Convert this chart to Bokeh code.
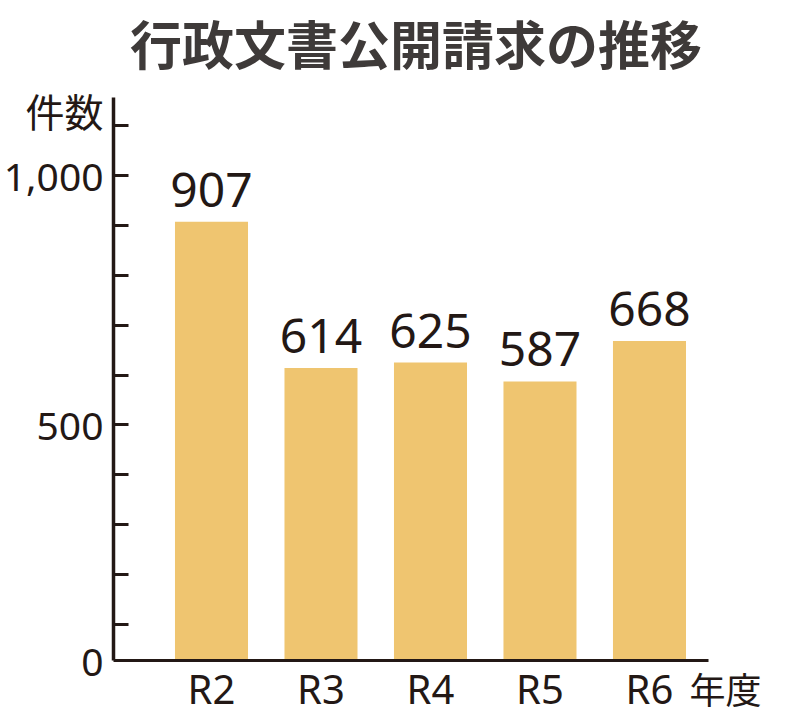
from bokeh.plotting import figure
from bokeh.models import Range1d, FixedTicker, Label, ColumnDataSource
from bokeh.core.properties import value
from bokeh.embed import file_html
from bokeh.resources import INLINE

# ---- data ----
years = ["R2", "R3", "R4", "R5", "R6"]
counts = [907, 614, 625, 587, 668]
count_labels = ["907", "614", "625", "587", "668"]
y_major_ticks = [500, 1000]
y_major_labels = ["500", "1,000"]
y_minor_ticks = [100, 200, 300, 400, 500, 600, 700, 800, 900, 1000, 1100]
zero_label = "0"
title_text = "行政文書公開請求の推移"
y_unit = "件数"
x_unit = "年度"

INK = "#231815"
BAR = "#EFC570"
TITLE = "#3E3A39"
JP = "Noto Sans CJK JP"
LATIN = "Noto Sans"
MIXED = "'Noto Sans', 'Noto Sans CJK JP'"

xs = list(range(len(years)))
X0, X1 = -0.895, 4.539
Y0, Y1 = 28, 1156   # plotted value range (bottom is the visible baseline)
Y_UNIT = 1128       # height at which the unit caption sits

p = figure(width=788, height=718, output_backend="svg", toolbar_location=None,
           x_range=Range1d(X0, X1), y_range=Range1d(Y0, Y1),
           min_border_left=113, min_border_right=80, min_border_top=97,
           min_border_bottom=57, outline_line_color=None)

src = ColumnDataSource(dict(x=xs, top=counts, lab=count_labels))
p.vbar(x="x", top="top", bottom=0, width=0.667, source=src,
       fill_color=BAR, line_color=None)
p.text(x="x", y="top", text="lab", source=src, text_align="center",
       text_baseline="alphabetic", y_offset=-32, text_font=value(LATIN),
       text_font_size="48px", text_color=INK)

p.grid.visible = False

# x axis
xa = p.xaxis[0]
xa.ticker = FixedTicker(ticks=xs)
xa.major_label_overrides = {i: y for i, y in enumerate(years)}
xa.major_tick_line_color = None
xa.minor_tick_line_color = None
xa.major_tick_in = 0
xa.major_tick_out = 0
xa.minor_tick_in = 0
xa.minor_tick_out = 0
xa.axis_line_color = INK
xa.axis_line_width = 3
xa.major_label_text_font = LATIN
xa.major_label_text_font_size = "40px"
xa.major_label_text_color = INK
xa.major_label_standoff = 0

# y axis: labelled values carry no tick mark of their own; every 100 gets a mark
ya = p.yaxis[0]
ya.ticker = FixedTicker(ticks=[Y0] + y_major_ticks + [Y_UNIT],
                        minor_ticks=y_minor_ticks)
ov = {Y0: zero_label, Y_UNIT: y_unit}
ov.update({t: l for t, l in zip(y_major_ticks, y_major_labels)})
ya.major_label_overrides = ov
ya.axis_line_color = INK
ya.axis_line_width = 3.5
ya.major_tick_in = 0
ya.major_tick_out = 0
ya.minor_tick_in = 15
ya.minor_tick_out = 0
ya.minor_tick_line_color = INK
ya.minor_tick_line_width = 3
ya.major_label_text_font = MIXED
ya.major_label_text_font_size = "39px"
ya.major_label_text_color = INK
ya.major_label_standoff = 10

# chart title, in the panel above the plot frame
p.add_layout(Label(x=(X0 + X1) / 2, y=Y1, x_offset=5, y_offset=55,
                   text=title_text, text_align="center", text_baseline="middle",
                   text_font=JP, text_font_size="52px", text_font_style="bold",
                   text_color=TITLE), "above")

# x unit caption, placed in the right-hand side panel so it is not clipped
p.add_layout(Label(x=4, y=Y0, x_offset=40, y_offset=-27,
                   text=x_unit, text_align="left", text_baseline="middle",
                   text_font=JP, text_font_size="36px", text_color=INK), "right")

open("out.html", "w").write(file_html(p, INLINE))
